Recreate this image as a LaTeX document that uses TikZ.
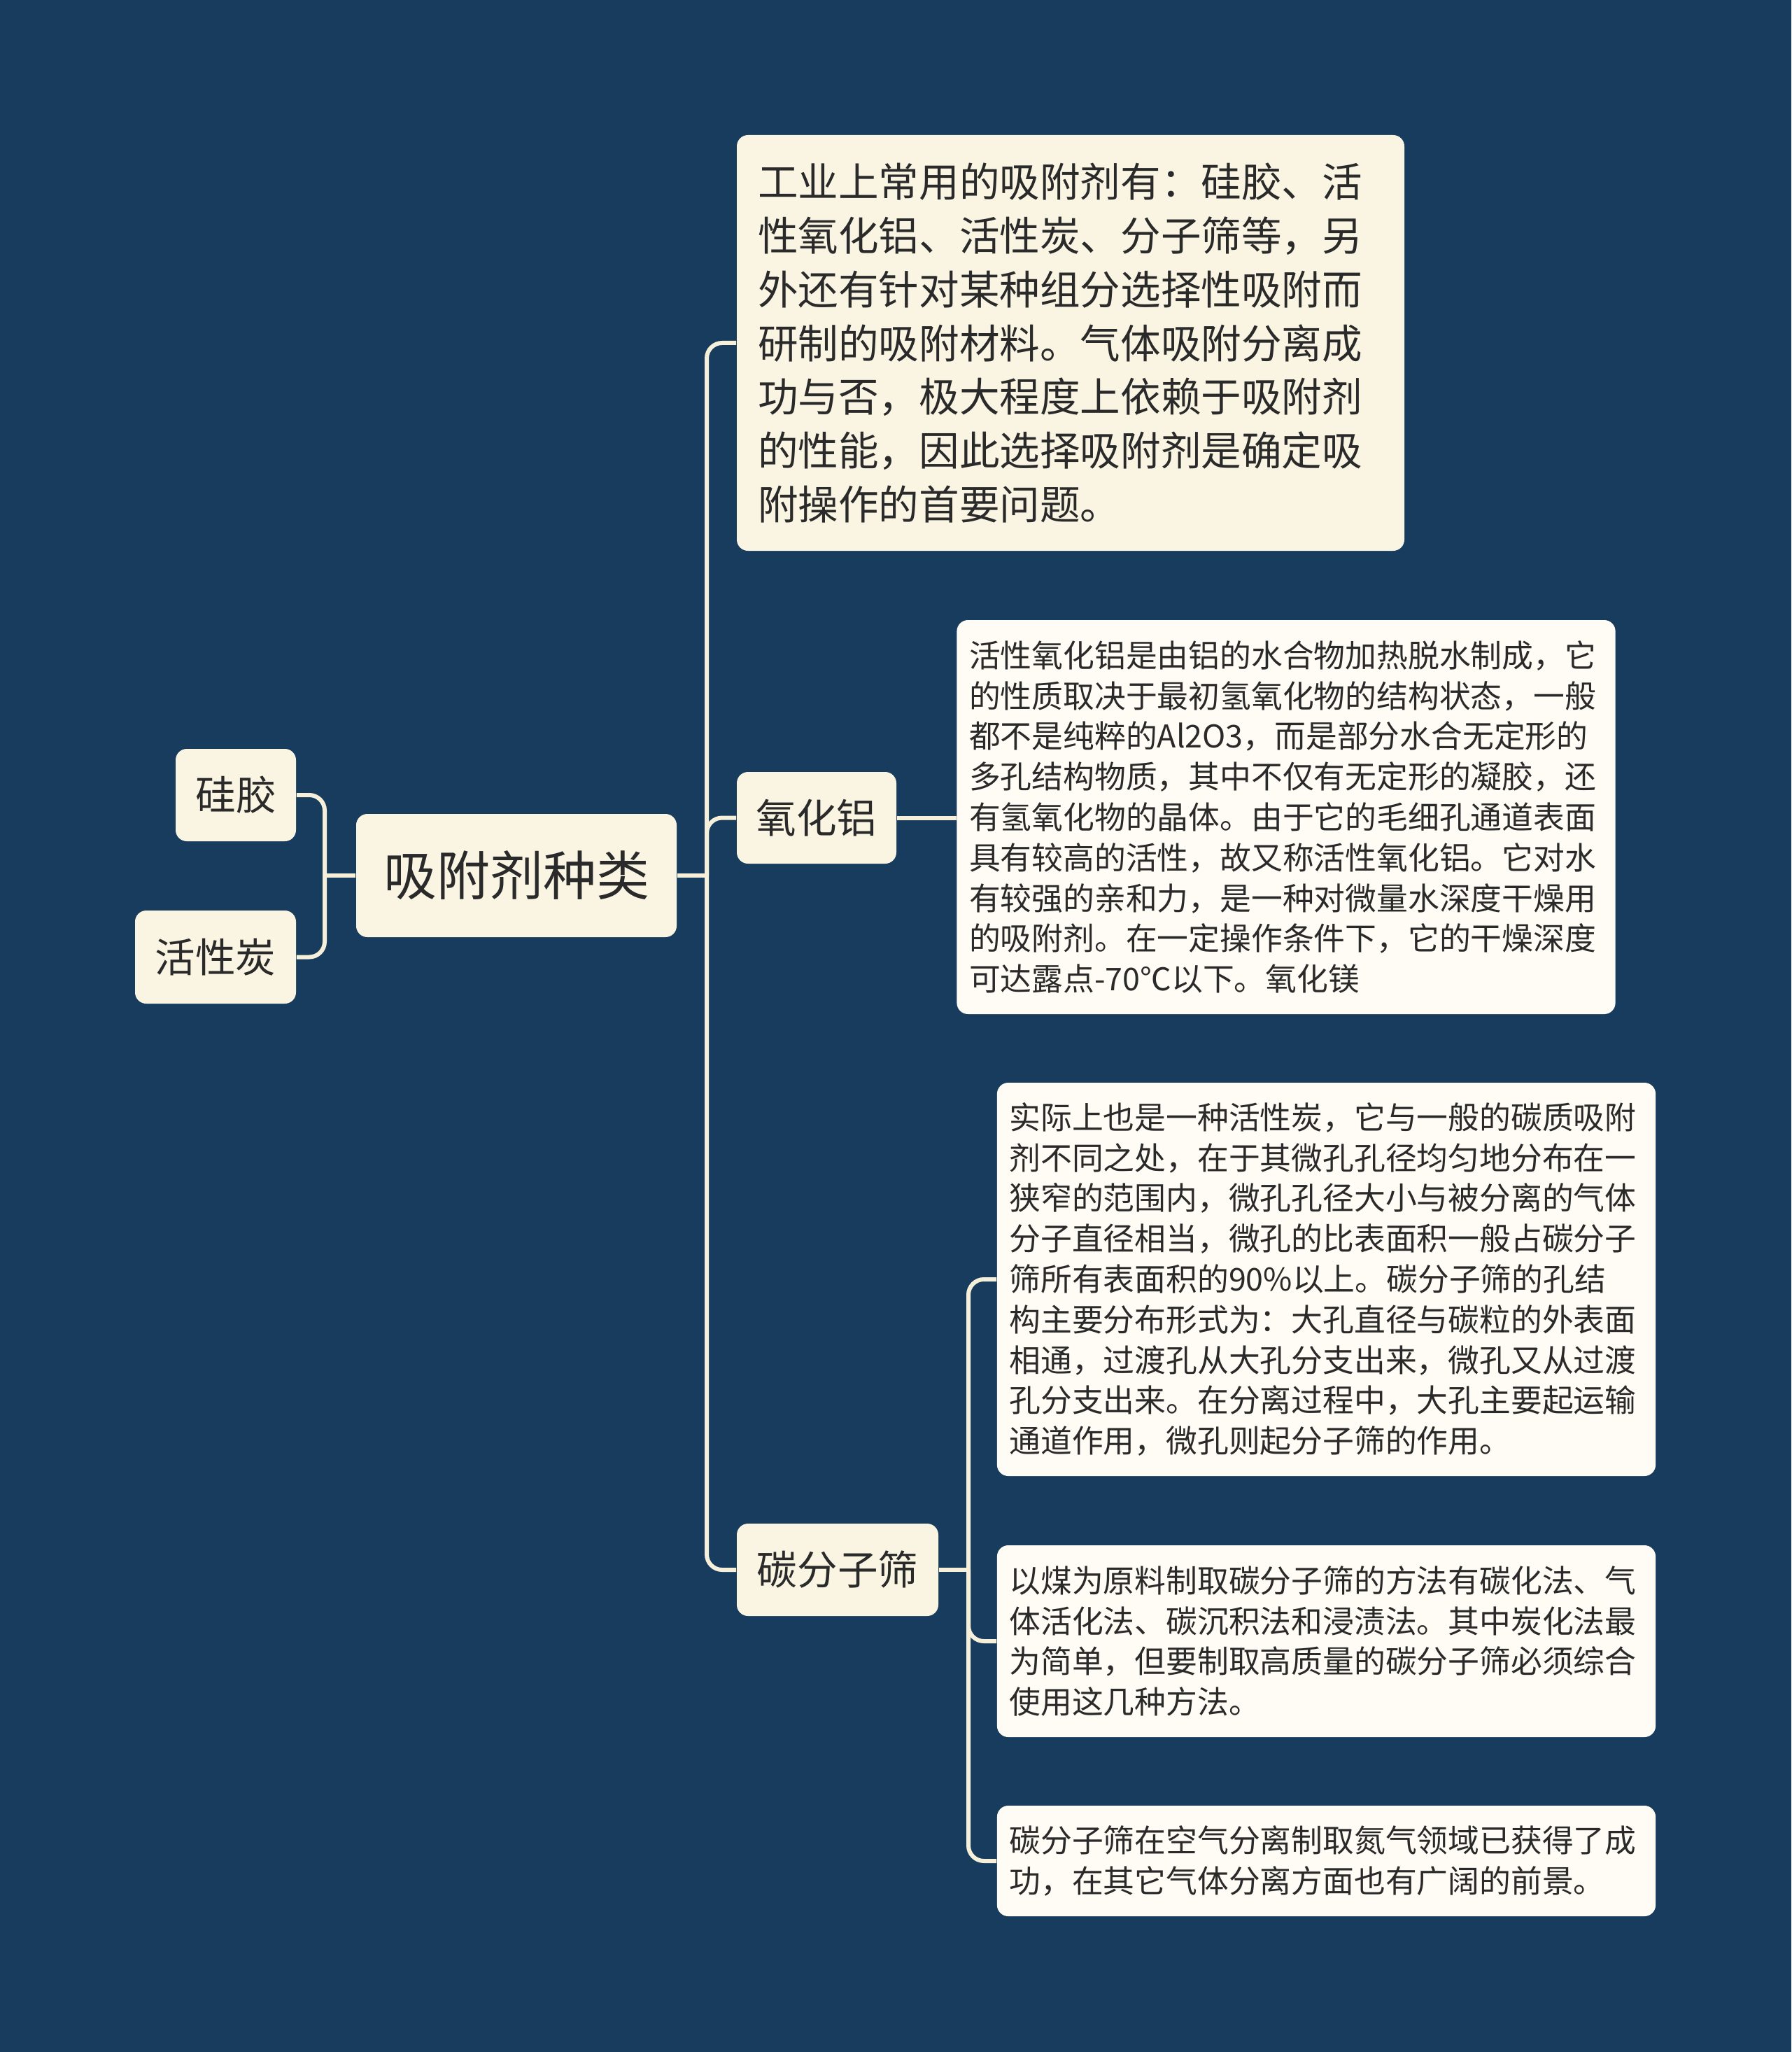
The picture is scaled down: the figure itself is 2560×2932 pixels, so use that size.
\documentclass[tikz,border=0pt]{standalone}
\usepackage{fontspec}
\setmainfont{Noto Sans CJK SC}
\definecolor{bg}{HTML}{183C5D}
\definecolor{cream}{HTML}{FAF5E2}
\definecolor{detfill}{HTML}{FEFCF4}
\definecolor{linec}{HTML}{F6F0DA}
\definecolor{txt}{HTML}{2A2A2A}
\begin{document}
\begin{tikzpicture}[x=0.25pt,y=-0.25pt,
  l1/.style={fill=cream, rounded corners=4pt, inner sep=0pt, text=txt, align=center, font=\fontsize{14.4}{19.2}\selectfont},
  rootbox/.style={fill=cream, rounded corners=4pt, inner sep=0pt, text=txt, align=center, font=\fontsize{19}{24}\selectfont},
  bigbox/.style={fill=cream, rounded corners=4pt, inner sep=0pt, text=txt, align=left, text width=223.5pt, font=\fontsize{14.4}{19.2}\selectfont},
  detbox/.style={fill=detfill, rounded corners=4pt, inner sep=0pt, text=txt, align=left, text width=226.5pt, minimum width=235.3pt, font=\fontsize{11.2}{14.45}\selectfont},
  conn/.style={draw=linec, line width=1.5pt, rounded corners=5.5pt}]
\fill[bg] (0,0) rectangle (2560,2932);
\useasboundingbox (0,0) rectangle (2560,2932);

% nodes
\node[rootbox, minimum width=114.5pt, minimum height=44pt] (root) at (738,1251) {吸附剂种类};
\node[l1, minimum width=43pt, minimum height=33pt] (sg) at (337,1136) {硅胶};
\node[l1, minimum width=57.5pt, minimum height=33.25pt] (hxt) at (308,1367.5) {活性炭};

\node[bigbox, minimum width=238.5pt, minimum height=148.5pt] (top) at (1530,490) {%
工业上常用的吸附剂有：硅胶、活\\%
性氧化铝、活性炭、分子筛等，另\\%
外还有针对某种组分选择性吸附而\\%
研制的吸附材料。气体吸附分离成\\%
功与否，极大程度上依赖于吸附剂\\%
的性能，因此选择吸附剂是确定吸\\%
附操作的首要问题。};

\node[l1, minimum width=57pt, minimum height=32.75pt] (yhl) at (1167,1168.5) {氧化铝};
\node[detbox, minimum height=140.75pt] (yhld) at (1838,1167.5) {%
活性氧化铝是由铝的水合物加热脱水制成，它\\%
的性质取决于最初氢氧化物的结构状态，一般\\%
都不是纯粹的Al2O3，而是部分水合无定形的\\%
多孔结构物质，其中不仅有无定形的凝胶，还\\%
有氢氧化物的晶体。由于它的毛细孔通道表面\\%
具有较高的活性，故又称活性氧化铝。它对水\\%
有较强的亲和力，是一种对微量水深度干燥用\\%
的吸附剂。在一定操作条件下，它的干燥深度\\%
可达露点-70℃以下。氧化镁};

\node[l1, minimum width=72pt, minimum height=33pt] (tfzs) at (1197,2243) {碳分子筛};
\node[detbox, minimum height=140.5pt] (c1) at (1895.5,1828) {%
实际上也是一种活性炭，它与一般的碳质吸附\\%
剂不同之处，在于其微孔孔径均匀地分布在一\\%
狭窄的范围内，微孔孔径大小与被分离的气体\\%
分子直径相当，微孔的比表面积一般占碳分子\\%
筛所有表面积的90\%以上。碳分子筛的孔结\\%
构主要分布形式为：大孔直径与碳粒的外表面\\%
相通，过渡孔从大孔分支出来，微孔又从过渡\\%
孔分支出来。在分离过程中，大孔主要起运输\\%
通道作用，微孔则起分子筛的作用。};
\node[detbox, minimum height=68.5pt] (c2) at (1895.5,2345) {%
以煤为原料制取碳分子筛的方法有碳化法、气\\%
体活化法、碳沉积法和浸渍法。其中炭化法最\\%
为简单，但要制取高质量的碳分子筛必须综合\\%
使用这几种方法。};
\node[detbox, minimum height=39.5pt] (c3) at (1895.5,2659) {%
碳分子筛在空气分离制取氮气领域已获得了成\\%
功，在其它气体分离方面也有广阔的前景。};

% junctions
\coordinate (jl) at (464,1251);
\coordinate (jr) at (1010,1251);
\coordinate (jc) at (1384,2243);

% connectors
\draw[conn] (sg.east) -| (jl) |- (hxt.east);
\draw[conn] (root.west) -- (jl);
\draw[conn] (top.west) -| (jr) |- (tfzs.west);
\draw[conn] (root.east) -- (jr);
\draw[conn] (jr) |- (yhl.west);
\draw[conn] (yhl.east) -- (yhld.west |- yhl.east);
\draw[conn] (c1.west) -| (jc) |- (c3.west);
\draw[conn] (tfzs.east) -- (jc);
\draw[conn] (jc) |- (c2.west);
\end{tikzpicture}
\end{document}
